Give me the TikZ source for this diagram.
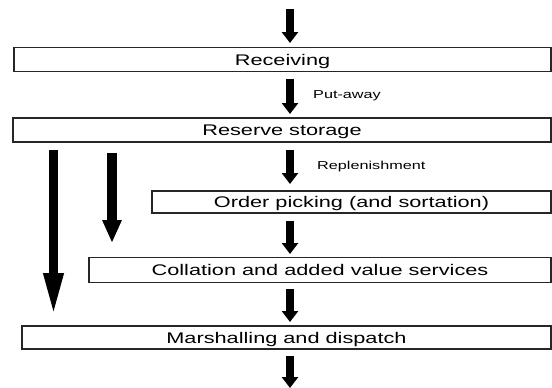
\documentclass[tikz,border=0pt]{standalone}
\usepackage{fontspec}
\setmainfont{Liberation Sans}
\newfontfamily\wide[FakeStretch=1.41]{Liberation Sans}
\usetikzlibrary{arrows.meta,calc}
\begin{document}
\begin{tikzpicture}[x=1pt,y=-1pt,
  box/.style={draw=black!85, line width=1.1pt, inner sep=0pt, outer sep=0pt, anchor=north west,
    font=\wide\fontsize{15.4}{18}\selectfont, text height=11pt, text depth=0pt},
  flow/.style={line width=8pt, -{Triangle[width=16pt,length=11pt]}},
  lflow/.style={line width=9pt, -{Triangle[width=18pt,length=44pt]}},
  mflow/.style={line width=9.5pt, -{Triangle[width=18pt,length=23pt]}},
  lbl/.style={anchor=west, inner sep=0pt, font=\wide\fontsize{11.5}{13}\selectfont}]
\useasboundingbox (0,0) rectangle (552,388);
\node[box, minimum width=537pt, minimum height=24pt] (rec) at (14,47.5) {Receiving};
\node[box, minimum width=538pt, minimum height=24pt] (res) at (13,118) {Reserve storage};
\node[box, minimum width=399pt, minimum height=22pt] (ord) at (152,191) {Order picking (and sortation)};
\node[box, minimum width=462pt, minimum height=25pt] (col) at (89,257.5) {Collation and added value services};
\node[box, minimum width=529pt, minimum height=23pt] (mar) at (22,326) {Marshalling and dispatch};
\coordinate (in) at (290,9);
\coordinate (out) at (290,388);
\coordinate (lx) at (53.5,0);
\coordinate (mx) at (112,0);
\draw[flow, shorten >=4.5pt] (in) -- (rec.north -| in);
\draw[flow, shorten <=7pt, shorten >=4pt] (rec.south -| in) -- (res.north -| in);
\draw[flow, shorten <=8pt, shorten >=7pt] (res.south -| in) -- (ord.north -| in);
\draw[flow, shorten <=8pt, shorten >=3.5pt] (ord.south -| in) -- (col.north -| in);
\draw[flow, shorten <=6.5pt, shorten >=4pt] (col.south -| in) -- (mar.north -| in);
\draw[flow, shorten <=7pt] (mar.south -| in) -- (out);
\draw[lflow, shorten <=8pt, shorten >=9pt] (res.south -| lx) -- (mar.north -| lx);
\draw[mflow, shorten <=11pt, shorten >=14.5pt] (res.south -| mx) -- (col.north -| mx);
\node[lbl] (pa) at (313,96) {Put-away};
\node[lbl] (rp) at (317,167) {Replenishment};
\end{tikzpicture}
\end{document}
